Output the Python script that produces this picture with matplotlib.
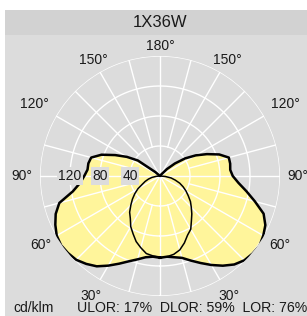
import numpy as np
import matplotlib
matplotlib.use("Agg")
import matplotlib.pyplot as plt
from matplotlib.patches import Rectangle

plt.rcParams['font.family'] = ['Liberation Sans', 'DejaVu Sans']

# ---- data (cd/klm) ----
gamma = list(range(0, 181, 5))
c0 = [109, 108, 110, 113, 120, 128, 137, 146, 154, 159, 161, 162, 159, 155, 147,
      131, 117, 105, 97, 94, 95, 95, 84, 69, 55, 41, 26, 13, 3, 0, 0, 0, 0, 0, 0, 0, 0]
c180 = [109, 108, 110, 115, 121, 129, 138, 147, 153, 158, 160, 161, 159, 154, 148,
        139, 118, 107, 101, 97, 97, 95, 83, 66, 51, 36, 8, 0, 0, 0, 0, 0, 0, 0, 0, 0, 0]
gamma_q = list(range(0, 91, 5))
c90 = [109, 108, 106, 102, 95, 87, 82, 73, 66, 59, 53, 46, 40, 34, 28, 21, 15, 7, 0]
c270 = [108, 107, 105, 99, 93, 85, 78, 69, 63, 55, 48, 41, 34, 26, 21, 16, 11, 5, 0]

ring_values = [40, 80, 120, 160]
ring_labels = ["40", "80", "120"]
angle_labels = [30, 60, 90, 120, 150, 180]
title = "1X36W"
unit = "cd/klm"
footer = "ULOR: 17%  DLOR: 59%  LOR: 76%"

# ---- figure ----
W, H = 307, 316
fig = plt.figure(figsize=(W / 100, H / 100), dpi=100)
fig.patch.set_facecolor('white')
# background panels
fig.patches.append(Rectangle((5 / W, 0), 1 - 5 / W, (H - 10) / H, transform=fig.transFigure,
                             facecolor='#dcdcdc', edgecolor='none', zorder=-10))
fig.patches.append(Rectangle((5 / W, (H - 35) / H), 1 - 5 / W, 25 / H, transform=fig.transFigure,
                             facecolor='#d2d2d2', edgecolor='none', zorder=-9))
fig.text(160.5 / W, (H - 22.5) / H, title, ha='center', va='center', fontsize=12, color='#1a1a1a')

cx, cy, R = 160, 176, 120
ax = fig.add_axes([(cx - R) / W, (H - cy - R) / H, 2 * R / W, 2 * R / H], projection='polar')
ax.set_facecolor('none')
ax.set_zorder(5)
ax.set_theta_zero_location('S')
ax.set_theta_direction(1)
ax.set_rlim(0, 160)
ax.grid(False)
ax.set_xticks([])
ax.set_yticks([])
ax.spines['polar'].set_visible(False)

# butterfly (C0 right, C180 left)
g = np.array(gamma, dtype=float)
th_b = np.concatenate([np.deg2rad(g), np.deg2rad(360 - g[::-1])])
r_b = np.concatenate([np.array(c0, float), np.array(c180, float)[::-1]])
yellow = '#fff59b'
ax.fill(th_b, r_b, color=yellow, zorder=1, lw=0)

gq = np.array(gamma_q, dtype=float)
th_o = np.concatenate([np.deg2rad(gq), np.deg2rad(360 - gq[::-1])])
r_o = np.concatenate([np.array(c90, float), np.array(c270, float)[::-1]])
ax.fill(th_o, r_o, color=yellow, zorder=1, lw=0)

# grid
tt = np.linspace(0, 2 * np.pi, 400)
for rv in ring_values:
    ax.plot(tt, np.full_like(tt, rv), color='white', lw=1.0, zorder=2)
for a in range(0, 360, 15):
    r0 = 0 if a % 30 == 0 else 40
    ax.plot([np.deg2rad(a)] * 2, [r0, 160], color='white', lw=1.0, zorder=2)

# outlines
ax.plot(np.append(th_b, th_b[0]), np.append(r_b, r_b[0]), color='black', lw=1.8, zorder=3,
        solid_joinstyle='round')
ax.plot(np.append(th_o, th_o[0]), np.append(r_o, r_o[0]), color='black', lw=1.1, zorder=3)

# ring labels on the left horizontal
for lab, rv in zip(ring_labels, ring_values):
    ax.text(np.deg2rad(270), rv, lab, ha='center', va='center', fontsize=10, color='#1a1a1a',
            zorder=4, bbox=dict(boxstyle='square,pad=0.12', fc='#dcdcdc', ec='none'))

# angle labels
label_r = {30: 138, 60: 138, 90: 138, 120: 145, 150: 134, 180: 130}
for a in angle_labels:
    rr = label_r[a] * 160 / R
    sides = [a] if a == 180 else [a, 360 - a]
    for s in sides:
        ax.text(np.deg2rad(s), rr, f"{a}°", ha='center', va='center', fontsize=10,
                color='#1a1a1a', clip_on=False, zorder=4)

fig.text(13 / W, (H - 308) / H, unit, ha='left', va='center', fontsize=10, color='#1a1a1a')
fig.text(77 / W, (H - 308) / H, footer, ha='left', va='center', fontsize=10.2, color='#1a1a1a')

fig.savefig('out.png', dpi=100, facecolor=fig.get_facecolor())
